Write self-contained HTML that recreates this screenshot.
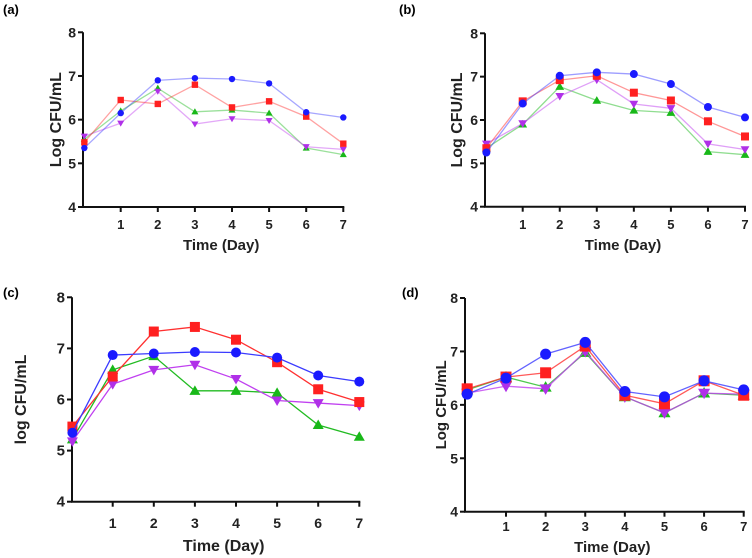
<!DOCTYPE html>
<html><head><meta charset="utf-8"><style>
html,body{margin:0;padding:0;background:#fff;}
svg{display:block;font-family:"Liberation Sans",Arial,sans-serif;}
</style></head><body>
<svg id="fig" width="752" height="558" viewBox="0 0 752 558"></svg>
<script>
const days = [0,1,2,3,4,5,6,7];
const yTicks = [4,5,6,7,8];
const xTickLabels = ["1","2","3","4","5","6","7"];
const seriesNames = ["blue-circle","red-square","green-triangle","purple-triangle-down"];
const aBlue = [5.35,6.15,6.9,6.95,6.93,6.83,6.17,6.05];
const aRed = [5.48,6.45,6.36,6.8,6.28,6.42,6.07,5.45];
const aGreen = [5.55,6.2,6.72,6.18,6.22,6.15,5.35,5.2];
const aPurple = [5.62,5.92,6.65,5.9,6.02,5.98,5.38,5.32];
const bBlue = [5.25,6.38,7.02,7.1,7.06,6.83,6.3,6.06];
const bRed = [5.35,6.43,6.92,7.02,6.63,6.45,5.97,5.62];
const bGreen = [5.35,5.9,6.77,6.45,6.22,6.17,5.27,5.2];
const bPurple = [5.45,5.92,6.55,6.93,6.37,6.27,5.45,5.32];
const cBlue = [5.35,6.87,6.9,6.93,6.92,6.82,6.47,6.35];
const cRed = [5.47,6.45,7.33,7.42,7.17,6.73,6.2,5.95];
const cGreen = [5.22,6.58,6.85,6.17,6.17,6.13,5.5,5.27];
const cPurple = [5.18,6.3,6.58,6.68,6.4,5.98,5.93,5.88];
const dBlue = [6.2,6.5,6.95,7.17,6.25,6.15,6.45,6.28];
const dRed = [6.3,6.52,6.6,7.1,6.18,6.02,6.45,6.18];
const dGreen = [6.28,6.52,6.33,6.98,6.15,5.85,6.22,6.18];
const dPurple = [6.22,6.35,6.3,7.0,6.15,5.85,6.22,6.2];

const NS="http://www.w3.org/2000/svg";
const svg=document.getElementById('fig');
function mk(tag,attrs,parent,text){const e=document.createElementNS(NS,tag);for(const k in attrs)e.setAttribute(k,attrs[k]);if(text!==undefined)e.textContent=text;(parent||svg).appendChild(e);return e;}

const panels=[
 {id:'a',label:'(a)',lx:3,ly:14,ax:83,x1:120.7,x7:343.3,y8:32.3,y4:207,ytx:61,ytitle:'Log CFU/mL',xly:229,xty:250,r:3.2,lineOp:0.45,fs:12,tfs:16,data:[aBlue,aRed,aGreen,aPurple]},
 {id:'b',label:'(b)',lx:399,ly:14,ax:485,x1:522.7,x7:745,y8:33.3,y4:206.7,ytx:462,ytitle:'Log CFU/mL',xly:229,xty:250,r:4,lineOp:0.5,fs:12,tfs:16,data:[bBlue,bRed,bGreen,bPurple]},
 {id:'c',label:'(c)',lx:3,ly:297,ax:72,x1:112.7,x7:359.3,y8:297.3,y4:501.7,ytx:26,ytitle:'log CFU/mL',xly:528,xty:551,r:5,lineOp:1,fs:13,tfs:16,data:[cBlue,cRed,cGreen,cPurple]},
 {id:'d',label:'(d)',lx:402,ly:297,ax:465,x1:506,x7:743.7,y8:298,y4:511.7,ytx:446,ytitle:'Log CFU/mL',xly:531,xty:552,r:5.5,lineOp:0.8,fs:12,tfs:15,data:[dBlue,dRed,dGreen,dPurple]}
];
const colors=['#1a1aff','#ff2020','#18b818','#b030e8'];
const lineColors=['#3b3bff','#ff3030','#22bb22','#c040f0'];

panels.forEach(p=>{
  const g=mk('g',{},svg);
  
  
  const perDay=(p.x7-p.x1)/6;
  const xs=d=>p.x1+(d-1)*perDay;
  const ys=v=>p.y4-(v-4)*(p.y4-p.y8)/4;
  const lab=mk('text',{x:p.lx,y:p.ly,'font-size':13,'font-weight':'bold'},g,p.label);
  
  
  const ya=mk('line',{x1:p.ax,y1:p.y8,x2:p.ax,y2:p.y4,stroke:'#111','stroke-width':2},g);
  
  
  const xa=mk('line',{x1:p.ax-1,y1:p.y4,x2:p.x7+1,y2:p.y4,stroke:'#111','stroke-width':2},g);
  
  
  yTicks.forEach(t=>{
    mk('line',{x1:p.ax-5,y1:ys(t),x2:p.ax,y2:ys(t),stroke:'#111','stroke-width':2},g);
    const tl=mk('text',{x:p.ax-7,y:ys(t)+5,'font-size':p.fs+2,'font-weight':'bold','text-anchor':'end',fill:'#222'},g,String(t));
    
    
  });
  xTickLabels.forEach((t,i)=>{
    const x=xs(i+1);
    mk('line',{x1:x,y1:p.y4,x2:x,y2:p.y4+5,stroke:'#111','stroke-width':2},g);
    const tl=mk('text',{x:x,y:p.xly,'font-size':p.fs+1,'font-weight':'bold','text-anchor':'middle',fill:'#222'},g,t);
    
    
  });
  const yt=mk('text',{x:p.ytx,y:(p.y8+p.y4)/2,'font-size':p.tfs,'font-weight':'bold','text-anchor':'middle',fill:'#222',transform:`rotate(-90 ${p.ytx} ${(p.y8+p.y4)/2})`},g,p.ytitle);
  
  
  const xt=mk('text',{x:(p.ax+p.x7)/2+8,y:p.xty,'font-size':p.fs+3,'font-weight':'bold','text-anchor':'middle',fill:'#222'},g,'Time (Day)');
  
  
  const order=[2,3,1,0];
  order.forEach(si=>{
    const vals=p.data[si];
    const sg=mk('g',{},g);
    
    
    const pts=vals.map((v,i)=>xs(days[i]===0?0.02:days[i])+','+ys(v)).join(' ');
    mk('polyline',{points:pts,fill:'none',stroke:lineColors[si],'stroke-width':1.3,'stroke-opacity':p.lineOp},sg);
    vals.forEach((v,i)=>{
      const x=xs(days[i]===0?0.02:days[i]),y=ys(v),r=p.r;let m;
      if(si===0)m=mk('circle',{cx:x,cy:y,r:r,fill:colors[0]},sg);
      else if(si===1)m=mk('rect',{x:x-r,y:y-r,width:2*r,height:2*r,fill:colors[1]},sg);
      else if(si===2)m=mk('polygon',{points:`${x},${y-r*1.1} ${x-r*1.1},${y+r*0.8} ${x+r*1.1},${y+r*0.8}`,fill:colors[2]},sg);
      else m=mk('polygon',{points:`${x},${y+r*1.1} ${x-r*1.1},${y-r*0.8} ${x+r*1.1},${y-r*0.8}`,fill:colors[3]},sg);
      
      
    });
  });
});
</script>
</body></html>
